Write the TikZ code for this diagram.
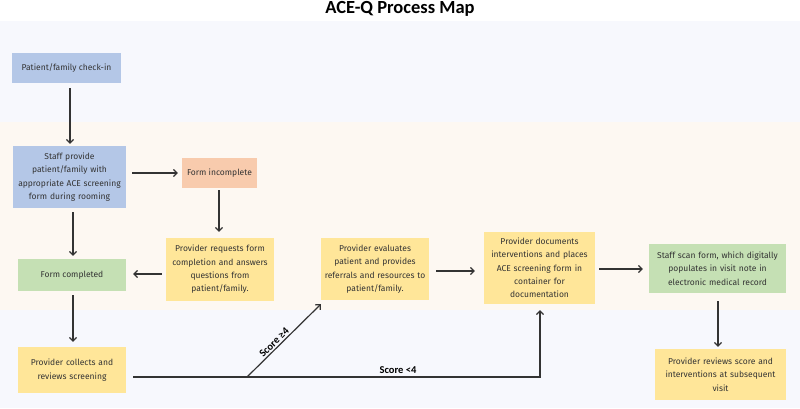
\documentclass[tikz,border=0pt]{standalone}
\usepackage{fontspec}
\setmainfont{Fira Sans}
\newfontfamily\headfont{Carlito}
\usetikzlibrary{arrows.meta,calc}

\definecolor{bandblue}{HTML}{F7F8FD}
\definecolor{bandcream}{HTML}{FDF8F2}
\definecolor{boxblue}{HTML}{B4C7E7}
\definecolor{boxorange}{HTML}{F8CBAD}
\definecolor{boxyellow}{HTML}{FFE699}
\definecolor{boxgreen}{HTML}{C5E0B4}
\definecolor{ink}{HTML}{333333}

\tikzset{
  box/.style={rectangle, inner sep=0pt, align=center, text=ink,
    font=\fontsize{8.5}{13.3}\selectfont},
  arr/.style={draw=ink, line width=1.2pt,
    -{Straight Barb[length=3.5pt,width=7pt,line width=1.2pt]}},
  plain/.style={draw=ink, line width=1.2pt},
  scorelbl/.style={font=\headfont\bfseries\fontsize{10.5}{12}\selectfont, text=black, inner sep=1.5pt}
}

\begin{document}
\begin{tikzpicture}[x=1pt,y=-1pt]
  \useasboundingbox (0,0) rectangle (800,408);
  \fill[white] (0,0) rectangle (800,408);

  % swim-lane bands
  \fill[bandblue]  (0,21)  rectangle (800,122);
  \fill[bandcream] (0,122) rectangle (800,310);
  \fill[bandblue]  (0,310) rectangle (800,408);

  % title
  \node[font=\headfont\bfseries\fontsize{18.5}{20}\selectfont, text=black] (title) at (400,9) {ACE-Q Process Map};

  % process steps
  \node[box, fill=boxblue, minimum width=109pt, minimum height=30pt] (checkin) at (66.5,68) {Patient/family check-in};
  \node[box, fill=boxblue, minimum width=113pt, minimum height=62pt, text width=108pt] (staff) at (69.5,177)
    {Staff provide\\patient/family with\\appropriate ACE screening\\form during rooming};
  \node[box, fill=boxorange, minimum width=75pt, minimum height=30pt] (incomplete) at (219.5,173) {Form incomplete};
  \node[box, fill=boxyellow, minimum width=108pt, minimum height=63pt, text width=104pt] (requests) at (220,269.5)
    {Provider requests form\\completion and answers\\questions from\\patient/family.};
  \node[box, fill=boxgreen, minimum width=108pt, minimum height=32pt] (completed) at (72,275) {Form completed};
  \node[box, fill=boxyellow, minimum width=108pt, minimum height=62pt, text width=106pt] (evaluates) at (375,269)
    {Provider evaluates\\patient and provides\\referrals and resources to\\patient/family.};
  \node[box, fill=boxyellow, minimum width=111pt, minimum height=72pt, text width=108pt] (documents) at (539.5,268)
    {Provider documents\\interventions and places\\ACE screening form in\\container for\\documentation};
  \node[box, fill=boxgreen, minimum width=137pt, minimum height=49pt, text width=134pt] (scan) at (717.5,268.5)
    {Staff scan form, which digitally\\populates in visit note in\\electronic medical record};
  \node[box, fill=boxyellow, minimum width=131pt, minimum height=51pt, text width=128pt] (reviews) at (720.5,374.5)
    {Provider reviews score and\\interventions at subsequent\\visit};
  \node[box, fill=boxyellow, minimum width=108pt, minimum height=46pt, text width=104pt] (collects) at (72,370)
    {Provider collects and\\reviews screening};

  % connectors
  \draw[arr] ($(checkin.south -| 70,0)+(0,5)$) -- ($(staff.north -| 70,0)+(0,-2)$);
  \draw[arr] ($(staff.east |- 0,173)+(6,0)$) -- ($(incomplete.west |- 0,173)+(-4,0)$);
  \draw[arr] ($(incomplete.south -| 219,0)+(0,2)$) -- ($(requests.north -| 219,0)+(0,-6)$);
  \draw[arr] ($(staff.south -| 73,0)+(0,4)$) -- ($(completed.north -| 73,0)+(0,-3)$);
  \draw[arr] ($(requests.west |- 0,274)+(-4,0)$) -- ($(completed.east |- 0,274)+(7,0)$);
  \draw[arr] ($(completed.south -| 73,0)+(0,4)$) -- ($(collects.north -| 73,0)+(0,-5)$);

  % screening outcome paths
  \coordinate (fork) at (247,377);
  \coordinate (bend) at (540,377);
  \draw[plain] ($(collects.east |- fork)+(7,0)$) -- (fork);
  \draw[arr] (fork) -- (bend) -- ($(documents.south -| bend)+(0,6)$);
  \draw[arr] (fork) -- ($(evaluates.south west)+(0,4)$)
    node[scorelbl, pos=0.42, sloped, above] {Score ≥4};
  \node[scorelbl, anchor=south] (lowlbl) at (398,375) {Score <4};

  \draw[arr] ($(evaluates.east |- 0,271)+(7,0)$) -- ($(documents.west |- 0,271)+(-9,0)$);
  \draw[arr] ($(documents.east |- 0,269)+(4,0)$) -- ($(scan.west |- 0,269)+(-6,0)$);
  \draw[arr] ($(scan.south -| 718,0)+(0,8)$) -- ($(reviews.north -| 718,0)+(0,-2)$);
\end{tikzpicture}
\end{document}
